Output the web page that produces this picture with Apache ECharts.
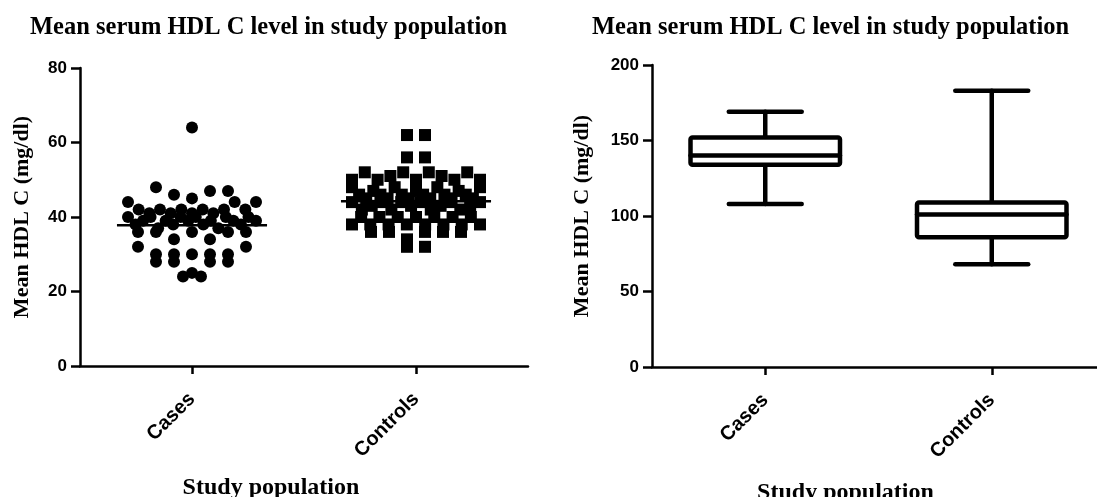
<!DOCTYPE html>
<html><head><meta charset="utf-8">
<script src="https://cdn.jsdelivr.net/npm/echarts@6/dist/echarts.min.js"></script>
<style>html,body{margin:0;padding:0;background:#fff}#c{width:1097px;height:497px}</style>
</head><body><div id="c"></div>
<script>
// ---- data (values in the order they appear, left to right, within each row band) ----
const categories = ['Cases', 'Controls'];
const casesValues = [64,
  48, 46, 45, 47, 47,
  44, 42, 41, 42, 41, 42, 41, 42, 41, 42, 44, 42, 44,
  40, 38, 39, 40, 37, 39, 38, 40, 39, 40, 38, 39, 37, 40, 39, 38, 40, 39,
  36, 36, 34, 36, 34, 36, 36,
  32, 30, 30, 30, 30, 30, 32,
  28, 28, 25, 28, 28,
  24, 24];
const controlsValues = [62, 62,
  56, 56,
  50, 52, 50, 51, 52, 50, 52, 51, 50, 52, 50,
  48, 46, 45, 47, 46, 45, 48, 46, 45, 47, 46, 45, 48, 46, 45, 47, 46, 45, 48,
  44, 42, 43, 44, 42, 44, 43, 44, 42, 43, 44, 42, 43, 44,
  38, 40, 38, 40, 38, 40, 38, 40, 38, 40, 38, 40, 38, 40, 38,
  36, 36, 34, 36, 36, 36,
  32, 32];
// box plot: [min, Q1, median, Q3, max]
const casesBox = [108, 134, 140, 152, 169];
const controlsBox = [68, 86, 101, 109, 183];
const leftAxis = { min: 0, max: 80, interval: 20 };
const rightAxis = { min: 0, max: 200, interval: 50 };
const titleText = 'Mean serum HDL C level in study population';
const yName = 'Mean HDL C (mg/dl)';
const xName = 'Study population';

// ---- layout ----
const G0 = { left: 80, right: 569, top: 68, bottom: 131, outerBoundsMode: 'none', containLabel: false };
const G1 = { left: 652, right: -8, top: 65, bottom: 130, outerBoundsMode: 'none', containLabel: false };

// Prism-style column scatter: values grouped into row bands, spread horizontally,
// compressed when a band holds too many points.
function bandOffsets(values, bandH, base, step, wMax) {
  const bands = new Map();
  values.forEach((v, i) => {
    const b = Math.floor((v - base) / bandH);
    if (!bands.has(b)) bands.set(b, []);
    bands.get(b).push(i);
  });
  const offs = new Array(values.length);
  bands.forEach(idx => {
    const n = idx.length;
    const s = n > 1 ? Math.min(step, wMax / (n - 1)) : 0;
    idx.forEach((i, k) => { offs[i] = (k - (n - 1) / 2) * s; });
  });
  return offs;
}
const mean = a => a.reduce((s, v) => s + v, 0) / a.length;

function pointData(values, cat) {
  const offs = bandOffsets(values, 4, 0.5, 18, 128);
  return values.map((v, i) => ({ value: [cat, v], symbolOffset: [offs[i], 0] }));
}

const black = '#000';
const sans = 'Liberation Sans';
const serif = 'Liberation Serif';

function xAxisCfg(gi, nameGap) {
  return {
    type: 'category', gridIndex: gi, data: categories, boundaryGap: true,
    axisLine: { show: true, lineStyle: { color: black, width: 2.5 } },
    axisTick: { show: true, alignWithLabel: true, length: 8, lineStyle: { color: black, width: 2.5 } },
    axisLabel: { rotate: 45, margin: 30, interval: 0, color: black, fontFamily: sans, fontWeight: 'bold', fontSize: 20 },
    splitLine: { show: false },
    name: xName, nameLocation: 'middle', nameGap: nameGap,
    nameTextStyle: { fontFamily: serif, fontWeight: 'bold', fontSize: 24, color: black, padding: [0, 66, 0, 0] }
  };
}
function yAxisCfg(gi, ax, nameGap) {
  return {
    type: 'value', gridIndex: gi, min: ax.min, max: ax.max, interval: ax.interval,
    axisLine: { show: true, lineStyle: { color: black, width: 2.5 } },
    axisTick: { show: true, length: 9, lineStyle: { color: black, width: 2.5 } },
    axisLabel: { margin: 13, color: black, fontFamily: sans, fontWeight: 'bold', fontSize: 17 },
    splitLine: { show: false },
    name: yName, nameLocation: 'middle', nameGap: nameGap, nameRotate: 90,
    nameTextStyle: { fontFamily: serif, fontWeight: 'bold', fontSize: 22, color: black }
  };
}

const chart = echarts.init(document.getElementById('c'), null, { renderer: 'canvas' });
const titleStyle = { fontFamily: serif, fontWeight: 'bold', fontSize: 24.5, color: black };
chart.setOption({
  backgroundColor: '#fff',
  animation: false,
  title: [
    { text: titleText, left: 30, top: 15, padding: 0, textStyle: titleStyle },
    { text: titleText, left: 592, top: 15, padding: 0, textStyle: titleStyle }
  ],
  grid: [G0, G1],
  xAxis: [xAxisCfg(0, 110), xAxisCfg(1, 114)],
  yAxis: [yAxisCfg(0, leftAxis, 47), yAxisCfg(1, rightAxis, 59)],
  series: [
    {
      type: 'scatter', xAxisIndex: 0, yAxisIndex: 0, symbol: 'circle', symbolSize: 12,
      itemStyle: { color: black, opacity: 1 }, data: pointData(casesValues, 0), z: 2
    },
    {
      type: 'scatter', xAxisIndex: 0, yAxisIndex: 0, symbol: 'rect', symbolSize: 12,
      itemStyle: { color: black, opacity: 1 }, data: pointData(controlsValues, 1), z: 2
    },
    {
      type: 'custom', xAxisIndex: 0, yAxisIndex: 0, z: 3,
      data: [[0, mean(casesValues)], [1, mean(controlsValues)]],
      renderItem(params, api) {
        const p = api.coord([api.value(0), api.value(1)]);
        const half = api.size([1, 0])[0] * 0.335;
        return { type: 'line', shape: { x1: p[0] - half, y1: p[1], x2: p[0] + half, y2: p[1] },
          style: { stroke: black, lineWidth: 2.5 } };
      }
    },
    {
      type: 'custom', xAxisIndex: 1, yAxisIndex: 1, z: 3,
      data: [[0].concat(casesBox), [1].concat(controlsBox)],
      renderItem(params, api) {
        const c = api.value(0);
        const y = k => api.coord([c, api.value(k)])[1];
        const x = api.coord([c, 0])[0];
        const bw = api.size([1, 0])[0] * 0.66;
        const cw = api.size([1, 0])[0] * 0.322;
        const st = { stroke: black, lineWidth: 4.5, lineCap: 'round', lineJoin: 'round', fill: null };
        const yMin = y(1), yQ1 = y(2), yMed = y(3), yQ3 = y(4), yMax = y(5);
        return { type: 'group', children: [
          { type: 'line', shape: { x1: x, y1: yQ3, x2: x, y2: yMax }, style: st },
          { type: 'line', shape: { x1: x, y1: yQ1, x2: x, y2: yMin }, style: st },
          { type: 'line', shape: { x1: x - cw / 2, y1: yMax, x2: x + cw / 2, y2: yMax }, style: st },
          { type: 'line', shape: { x1: x - cw / 2, y1: yMin, x2: x + cw / 2, y2: yMin }, style: st },
          { type: 'rect', shape: { x: x - bw / 2, y: yQ3, width: bw, height: yQ1 - yQ3, r: 2 },
            style: { stroke: black, lineWidth: 4.5, lineJoin: 'round', fill: '#fff' } },
          { type: 'line', shape: { x1: x - bw / 2, y1: yMed, x2: x + bw / 2, y2: yMed }, style: st }
        ] };
      }
    }
  ]
});
</script>
</body></html>
